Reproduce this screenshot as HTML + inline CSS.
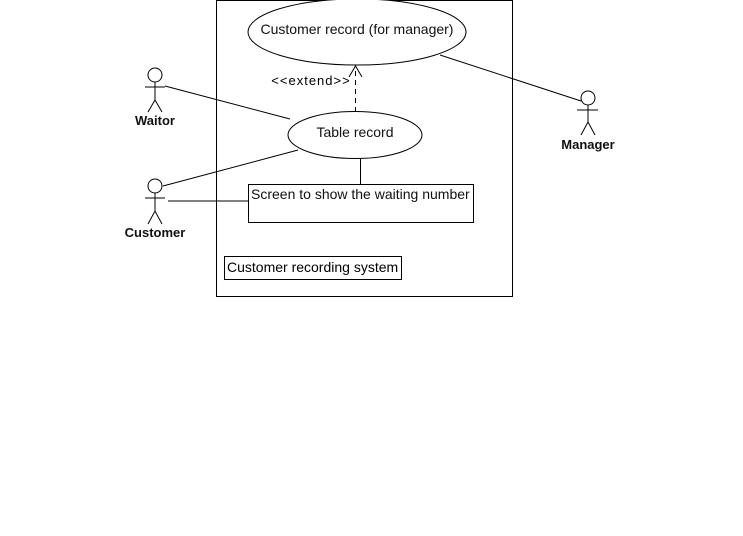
<!DOCTYPE html>
<html><head><style>body{margin:0;background:#fff}svg{display:block}</style></head><body>
<svg width="743" height="536" xmlns="http://www.w3.org/2000/svg" font-family="Liberation Sans, sans-serif">
<rect x="216.5" y="0.5" width="296" height="296" fill="none" stroke="#000"/>
<ellipse cx="357" cy="32" rx="109" ry="33" fill="#fff" stroke="#000"/>
<text x="357" y="34" font-size="14" text-anchor="middle" fill="#111">Customer record (for manager)</text>
<line x1="440" y1="55" x2="581" y2="101" stroke="#000"/>
<line x1="355.5" y1="112" x2="355.5" y2="67" stroke="#000" stroke-dasharray="5,4"/>
<polyline points="349,77 355.5,66 362,77" fill="none" stroke="#000"/>
<text x="311" y="85" font-size="13" letter-spacing="1" text-anchor="middle">&lt;&lt;extend&gt;&gt;</text>
<line x1="165" y1="86" x2="290" y2="119" stroke="#000"/>
<line x1="163" y1="186" x2="298" y2="150" stroke="#000"/>
<line x1="168" y1="201" x2="248" y2="201" stroke="#000"/>
<line x1="360.5" y1="159" x2="360.5" y2="184" stroke="#000"/>
<ellipse cx="355" cy="135" rx="67" ry="23.5" fill="#fff" stroke="#000"/>
<text x="355" y="137" font-size="14" text-anchor="middle" fill="#111">Table record</text>
<rect x="248.5" y="184.5" width="225" height="38" fill="#fff" stroke="#000"/>
<text x="251" y="199" font-size="14" fill="#111">Screen to show the waiting number</text>
<rect x="224.5" y="256.5" width="177" height="23" fill="#fff" stroke="#000"/>
<text x="227" y="272" font-size="14">Customer recording system</text>
<g stroke="#000" fill="#fff" stroke-width="1">
<circle cx="155" cy="75" r="7"/><line x1="145" y1="87" x2="165" y2="87"/><line x1="155" y1="82" x2="155" y2="101"/><polyline points="148,112 155,100 162,112" fill="none"/>
<circle cx="155" cy="186" r="7"/><line x1="145" y1="198" x2="165" y2="198"/><line x1="155" y1="193" x2="155" y2="212"/><polyline points="148,224 155,211 162,224" fill="none"/>
<circle cx="588" cy="98" r="7"/><line x1="577" y1="110" x2="598" y2="110"/><line x1="588" y1="105" x2="588" y2="123"/><polyline points="581,135 588,122 595,135" fill="none"/>
</g>
<g font-size="13" font-weight="bold" text-anchor="middle" fill="#111">
<text x="155" y="125">Waitor</text>
<text x="155" y="237">Customer</text>
<text x="588" y="149">Manager</text>
</g>
</svg>
</body></html>
